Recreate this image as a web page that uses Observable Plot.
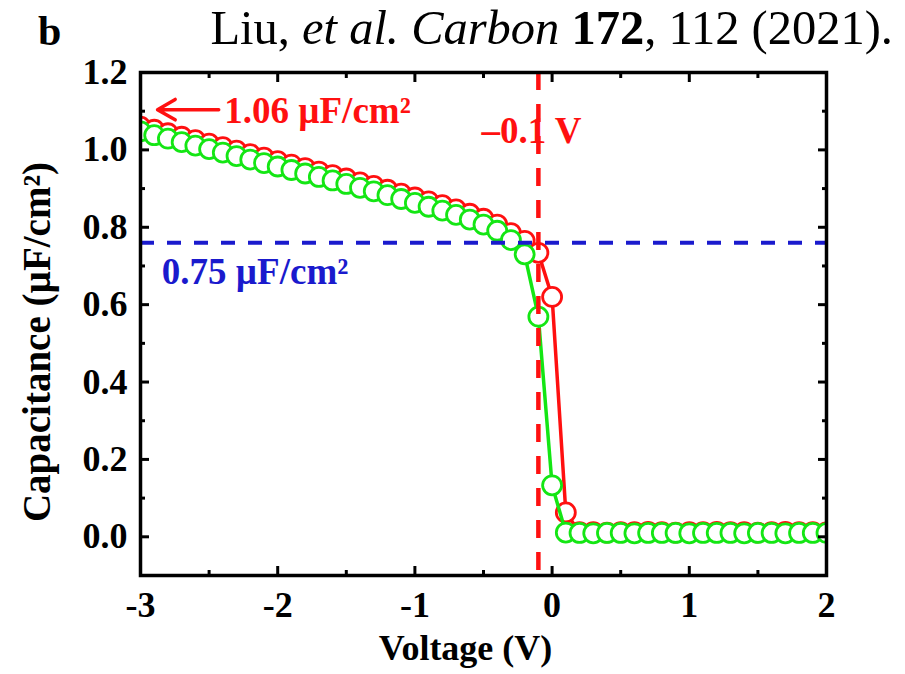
<!DOCTYPE html>
<html><head><meta charset="utf-8">
<script src="https://cdn.jsdelivr.net/npm/d3@7"></script>
<script src="https://cdn.jsdelivr.net/npm/@observablehq/plot@0.6"></script>
<style>
body{margin:0;background:#fff;}
#wrap{position:relative;width:905px;height:674px;font-family:"Liberation Serif","Times New Roman",serif;}
.hdr{position:absolute;white-space:nowrap;line-height:1.15;color:#000;}
#wrap svg{position:absolute;left:0;top:0;overflow:visible;}
</style></head><body>
<div id="wrap">
<div class="hdr" style="left:38px;top:7px;font-size:42px;font-weight:bold;">b</div>
<div class="hdr" style="right:12px;top:0px;font-size:48.5px;">Liu, <i>et al.</i> <i>Carbon</i> <b>172</b>, 112 (2021).</div>
</div>
<script>
const voltage = [-3.0,-2.9,-2.8,-2.7,-2.6,-2.5,-2.4,-2.3,-2.2,-2.1,-2.0,-1.9,-1.8,-1.7,-1.6,-1.5,-1.4,-1.3,-1.2,-1.1,
  -1.0,-0.9,-0.8,-0.7,-0.6,-0.5,-0.4,-0.3,-0.2,-0.1,0.0,0.1,0.2,0.3,0.4,0.5,0.6,0.7,0.8,0.9,
  1.0,1.1,1.2,1.3,1.4,1.5,1.6,1.7,1.8,1.9,2.0];
const capGreen = [1.048,1.038,1.029,1.020,1.011,1.002,0.993,0.984,0.975,0.966,0.957,0.948,0.939,0.930,0.921,0.912,0.902,0.893,0.883,0.873,
  0.863,0.853,0.843,0.832,0.820,0.807,0.791,0.767,0.730,0.569,0.133,0.011,0.010,0.009,0.010,0.010,0.009,0.010,0.010,0.010,
  0.009,0.010,0.010,0.010,0.009,0.010,0.010,0.009,0.010,0.010,0.010];
const capRed = [1.060,1.052,1.043,1.034,1.025,1.016,1.007,0.998,0.989,0.980,0.971,0.962,0.953,0.944,0.935,0.926,0.916,0.907,0.897,0.887,
  0.877,0.867,0.857,0.846,0.835,0.822,0.807,0.785,0.765,0.734,0.620,0.063,0.012,0.012,0.011,0.012,0.012,0.013,0.012,0.011,
  0.012,0.012,0.013,0.012,0.012,0.011,0.012,0.013,0.012,0.012,0.012];
const xTicks = [-3,-2,-1,0,1,2];
const xMinor = [-2.5,-1.5,-0.5,0.5,1.5];
const yTicks = [0,0.2,0.4,0.6,0.8,1.0,1.2];
const yMinor = [0.1,0.3,0.5,0.7,0.9,1.1];
const vLine = [-0.1];
const hLine = [0.76];
const arrowData = [{x1:-2.43, y1:1.104, x2:-2.876, y2:1.104}];
const redNotes = [{x:-2.39, y:1.10, t:"1.06 µF/cm²"}, {x:-0.515, y:1.049, t:"–0.1 V"}];
const blueNotes = [{x:-2.845, y:0.683, t:"0.75 µF/cm²"}];

const RED = "#ff1010", GREEN = "#14e614", BLUE = "#1a1acd";
const font = "Liberation Serif";
const rows = voltage.map((v,i)=>({v, g:capGreen[i], r:capRed[i]}));

const chart = Plot.plot({
  width: 905, height: 674,
  marginLeft: 140, marginRight: 79, marginTop: 72, marginBottom: 99,
  style: {fontFamily: font, background: "transparent", overflow: "visible"},
  x: {domain: [-3, 2], label: null},
  y: {domain: [-0.1, 1.2], label: null},
  marks: [
    Plot.line(rows, {x:"v", y:"r", stroke: RED, strokeWidth: 3.5, clip: true}),
    Plot.dot(rows, {x:"v", y:"r", r: 9.5, stroke: RED, strokeWidth: 2.8, fill: "white", clip: true}),
    Plot.line(rows, {x:"v", y:"g", stroke: GREEN, strokeWidth: 3.5, clip: true}),
    Plot.dot(rows, {x:"v", y:"g", r: 9.5, stroke: GREEN, strokeWidth: 2.8, fill: "white", clip: true}),
    Plot.ruleX(vLine, {x: d=>d, stroke: RED, strokeWidth: 4.5, strokeDasharray: "18,14"}),
    Plot.ruleY(hLine, {y: d=>d, stroke: BLUE, strokeWidth: 4, strokeDasharray: "14,13"}),
    Plot.arrow(arrowData, {x1:"x1", y1:"y1", x2:"x2", y2:"y2", stroke: RED, strokeWidth: 3.5, headLength: 26, headAngle: 60}),
    Plot.text(redNotes, {x:"x", y:"y", text:"t", fill: RED, fontSize: 37, fontWeight: "bold", fontFamily: font, textAnchor: "start", lineAnchor: "middle"}),
    Plot.text(blueNotes, {x:"x", y:"y", text:"t", fill: BLUE, fontSize: 37, fontWeight: "bold", fontFamily: font, textAnchor: "start", lineAnchor: "middle"}),
    Plot.axisX({ticks: xTicks, anchor: "bottom", tickSize: -9, strokeWidth: 3, tickFormat: () => "", label: null}),
    Plot.axisX({ticks: xTicks, anchor: "top", tickSize: -9, strokeWidth: 3, tickFormat: () => "", label: null}),
    Plot.axisX({ticks: xMinor, anchor: "bottom", tickSize: -5, strokeWidth: 3, tickFormat: () => "", label: null}),
    Plot.axisX({ticks: xMinor, anchor: "top", tickSize: -5, strokeWidth: 3, tickFormat: () => "", label: null}),
    Plot.axisY({ticks: yTicks, anchor: "left", tickSize: -9, strokeWidth: 3, tickFormat: () => "", label: null}),
    Plot.axisY({ticks: yTicks, anchor: "right", tickSize: -9, strokeWidth: 3, tickFormat: () => "", label: null}),
    Plot.axisY({ticks: yMinor, anchor: "left", tickSize: -5, strokeWidth: 3, tickFormat: () => "", label: null}),
    Plot.axisY({ticks: yMinor, anchor: "right", tickSize: -5, strokeWidth: 3, tickFormat: () => "", label: null}),
    Plot.text(xTicks, {x: d=>d, frameAnchor: "bottom", dy: 30, lineAnchor: "middle", textAnchor: "middle", text: d => String(d), fontSize: 36, fontWeight: "bold", fontFamily: font, fill: "black"}),
    Plot.text(yTicks, {y: d=>d, frameAnchor: "left", dx: -13, textAnchor: "end", lineAnchor: "middle", text: d => d.toFixed(1), fontSize: 36, fontWeight: "bold", fontFamily: font, fill: "black"}),
    Plot.text(["Voltage (V)"], {frameAnchor: "bottom", dx: -18, dy: 73, lineAnchor: "middle", textAnchor: "middle", text: d=>d, fontSize: 36, fontWeight: "bold", fontFamily: font, fill: "black"}),
    Plot.text(["Capacitance (µF/cm²)"], {frameAnchor: "left", rotate: -90, dx: -103, dy: 18, lineAnchor: "middle", textAnchor: "middle", text: d=>d, fontSize: 39, fontWeight: "bold", fontFamily: font, fill: "black"}),
    Plot.frame({stroke: "black", strokeWidth: 3.5})
  ]
});
document.getElementById("wrap").appendChild(chart);
</script>
</body></html>
